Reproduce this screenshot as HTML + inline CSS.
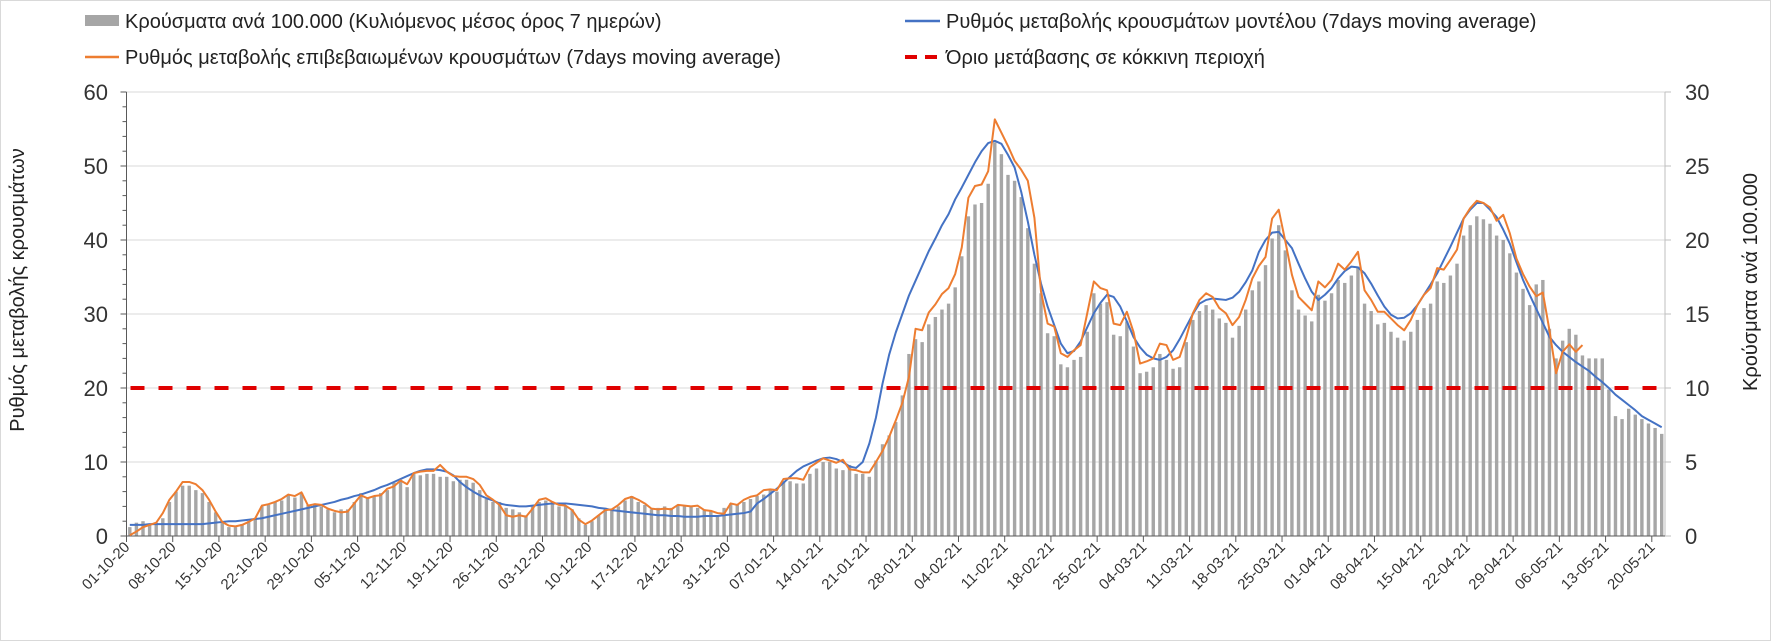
<!DOCTYPE html>
<html><head><meta charset="utf-8"><style>
html,body{margin:0;padding:0;background:#fff}
svg{display:block;font-family:"Liberation Sans","DejaVu Sans",sans-serif}
</style></head><body>
<svg id="chart" width="1771" height="641" viewBox="0 0 1771 641" xmlns="http://www.w3.org/2000/svg">
<rect x="0.5" y="0.5" width="1770" height="640" fill="#fff" stroke="#d9d9d9"/>
<g id="grid"></g>
<g id="bars"></g>
<g id="axes"></g>
<g id="lines"></g>
<g id="legend">
  <rect x="85" y="15" width="34" height="11" fill="#a6a6a6"/>
  <text x="125" y="28" font-size="20" fill="#222">Κρούσματα ανά 100.000 (Κυλιόμενος μέσος όρος 7 ημερών)</text>
  <line x1="905" y1="21" x2="940" y2="21" stroke="#4472c4" stroke-width="2.5"/>
  <text x="946" y="28" font-size="20" fill="#222">Ρυθμός μεταβολής κρουσμάτων μοντέλου (7days moving average)</text>
  <line x1="85" y1="57" x2="119" y2="57" stroke="#ed7d31" stroke-width="2.5"/>
  <text x="125" y="64" font-size="20" fill="#222">Ρυθμός μεταβολής επιβεβαιωμένων κρουσμάτων (7days moving average)</text>
  <line x1="905" y1="57" x2="940" y2="57" stroke="#e00000" stroke-width="4" stroke-dasharray="12,8"/>
  <text x="946" y="64" font-size="20" fill="#222">Όριο μετάβασης σε κόκκινη περιοχή</text>
</g>
<text transform="translate(24,290) rotate(-90)" text-anchor="middle" font-size="20" fill="#222">Ρυθμός μεταβολής κρουσμάτων</text>
<text transform="translate(1757,282) rotate(-90)" text-anchor="middle" font-size="20" fill="#222">Κρούσματα ανά 100.000</text>
</svg>
<script>
const bars = [0.6,0.9,1.0,0.8,0.9,1.2,2.3,3.0,3.4,3.4,
3.1,2.9,2.3,1.6,1.0,0.6,0.6,0.8,1.0,1.2,
2.0,2.1,2.3,2.4,2.8,2.6,2.9,2.1,2.2,2.0,
1.8,1.6,1.8,1.8,2.3,2.9,2.6,2.7,2.9,3.1,
3.6,3.8,3.3,4.2,4.1,4.2,4.2,4.0,4.0,3.7,
3.8,3.8,3.6,3.1,2.5,2.3,2.3,1.9,1.8,1.6,
1.4,2.0,2.3,2.4,2.3,2.0,2.0,1.8,1.2,0.75,
1.0,1.4,1.9,1.8,2.0,2.4,2.7,2.3,2.1,1.8,
1.9,2.0,1.9,2.1,2.0,2.0,1.9,1.8,1.7,1.4,
1.9,2.2,2.1,2.3,2.5,2.7,2.8,3.1,3.0,3.7,
3.7,3.55,3.55,4.2,4.56,5.0,5.0,4.56,4.45,4.8,
4.2,4.2,4.0,5.1,6.2,6.8,7.7,9.5,12.3,13.3,
13.1,14.3,14.8,15.3,15.7,16.8,18.9,21.6,22.4,22.5,
23.8,26.6,25.8,24.4,24.0,22.9,20.8,18.4,16.4,13.7,
13.5,11.6,11.4,11.9,12.1,13.8,16.4,15.7,15.8,13.6,
13.5,14.5,12.8,11.0,11.1,11.4,12.3,11.9,11.3,11.4,
13.1,14.6,15.2,15.6,15.3,14.7,14.4,13.4,14.2,15.3,
16.6,17.2,18.3,20.1,21.0,19.3,16.6,15.3,14.9,14.5,
16.3,15.9,16.4,17.3,17.1,17.6,18.2,15.7,15.2,14.3,
14.4,13.8,13.4,13.2,13.8,14.6,15.4,15.7,17.2,17.1,
17.6,18.4,20.3,21.0,21.6,21.4,21.1,20.3,20.0,19.1,
17.8,16.7,15.6,17.0,17.3,14.0,12.0,13.2,14.0,13.6,
12.2,12.0,12.0,12.0,9.9,8.1,7.9,8.6,8.2,7.9,
7.6,7.3,6.9];
const confirmedRate = [0.1,0.6,1.2,1.5,1.8,3.1,4.9,6.0,7.3,7.3,
7.0,6.2,4.9,3.3,1.9,1.4,1.3,1.5,1.9,2.4,
4.1,4.3,4.6,5.0,5.6,5.4,5.9,4.1,4.3,4.2,
3.7,3.4,3.2,3.3,4.4,5.5,5.1,5.4,5.5,6.4,
6.7,7.5,7.0,8.5,8.7,8.8,8.8,9.6,8.7,8.1,
8.0,8.0,7.7,6.9,5.5,4.9,4.2,2.8,2.6,2.8,
2.6,3.7,4.9,5.1,4.6,4.2,4.1,3.5,2.2,1.6,
2.1,2.8,3.5,3.6,4.2,5.0,5.3,4.9,4.4,3.7,
3.6,3.7,3.6,4.2,4.1,4.0,4.1,3.5,3.4,3.1,
3.0,4.4,4.2,4.9,5.3,5.5,6.2,6.3,6.2,7.7,
7.8,7.8,7.6,9.3,9.9,10.5,10.2,9.9,10.3,9.0,
8.9,8.6,8.6,10.0,11.5,13.4,15.6,18.0,21.5,28.0,
27.8,30.2,31.3,32.7,33.5,35.4,39.0,45.7,47.3,47.5,
49.3,56.3,54.5,52.7,50.7,49.5,48.0,43.0,33.0,28.7,
28.3,24.7,24.2,25.1,25.8,30.1,34.4,33.5,33.2,28.7,
28.5,30.3,27.6,23.3,23.6,24.0,26.0,25.8,23.8,24.2,
26.9,30.1,31.9,32.8,32.3,30.8,30.1,28.5,29.6,31.9,
34.8,36.5,37.7,42.9,44.1,39.8,35.3,32.3,31.4,30.5,
34.4,33.6,34.6,36.8,36.0,37.1,38.4,33.2,31.9,30.3,
30.3,29.4,28.5,27.8,29.2,31.2,32.6,33.5,36.2,36.0,
37.3,38.7,42.9,44.3,45.3,45.0,44.4,42.6,43.4,40.9,
37.5,35.4,33.7,32.4,32.9,27.8,22.0,24.9,25.9,24.9,25.8];
const modelRate = [1.5,1.5,1.5,1.6,1.6,1.6,1.6,1.6,1.6,1.6,
1.6,1.6,1.7,1.8,1.9,2.0,2.0,2.1,2.2,2.3,
2.4,2.6,2.8,3.0,3.2,3.4,3.6,3.8,4.0,4.2,
4.4,4.6,4.9,5.1,5.4,5.6,5.9,6.2,6.6,6.9,
7.3,7.7,8.1,8.5,8.8,9.0,9.0,8.9,8.7,8.2,
7.3,6.6,6.0,5.5,5.1,4.8,4.4,4.2,4.1,4.0,
4.0,4.1,4.2,4.3,4.4,4.4,4.4,4.3,4.2,4.1,
4.0,3.8,3.7,3.5,3.4,3.3,3.2,3.1,3.0,2.9,
2.8,2.8,2.7,2.7,2.6,2.6,2.6,2.7,2.7,2.7,
2.8,2.9,3.0,3.1,3.3,4.4,5.0,5.7,6.4,7.2,
8.0,8.8,9.4,9.8,10.2,10.5,10.6,10.4,10.0,9.4,
9.2,10.0,12.5,16.0,20.6,24.5,27.5,30.0,32.5,34.5,
36.5,38.5,40.2,42.0,43.5,45.5,47.1,48.8,50.5,52.0,
53.1,53.4,53.0,51.5,49.8,46.5,42.5,38.0,34.1,31.0,
28.5,26.0,24.7,25.0,26.3,28.2,30.1,31.5,32.6,32.3,
31.0,29.0,26.9,25.5,24.5,24.0,23.8,24.2,25.1,26.6,
28.3,30.0,31.4,31.9,32.1,32.0,31.9,32.2,33.0,34.3,
35.9,38.4,40.0,41.0,41.1,40.0,38.9,36.8,34.8,33.0,
31.9,32.6,33.5,34.8,35.8,36.4,36.3,35.5,34.1,32.5,
31.0,29.9,29.4,29.5,30.1,31.2,32.6,34.0,35.5,37.3,
39.1,41.0,42.9,44.1,45.0,45.0,44.1,43.1,41.4,39.5,
37.0,34.6,32.6,30.7,28.8,26.9,25.8,24.9,24.2,23.5,
22.9,22.3,21.5,20.8,20.0,19.1,18.4,17.7,17.0,16.2,
15.7,15.2,14.7];
const threshold = [20];
const dateLabels = ["01-10-20","08-10-20","15-10-20","22-10-20","29-10-20","05-11-20","12-11-20","19-11-20","26-11-20","03-12-20","10-12-20","17-12-20","24-12-20","31-12-20","07-01-21","14-01-21","21-01-21","28-01-21","04-02-21","11-02-21","18-02-21","25-02-21","04-03-21","11-03-21","18-03-21","25-03-21","01-04-21","08-04-21","15-04-21","22-04-21","29-04-21","06-05-21","13-05-21","20-05-21"];
const leftTicks = [0,10,20,30,40,50,60];
const rightTicks = [0,5,10,15,20,25,30];

const NS = "http://www.w3.org/2000/svg";
const X0 = 126.5, X1 = 1665, Y0 = 536, YTOP = 92;
const N = 233;
const band = (X1 - X0) / N;
const xC = d => X0 + band * (d + 0.5);
const xB = d => X0 + band * d;
const yL = v => Y0 - v * (Y0 - YTOP) / 60;
const yR = v => Y0 - v * (Y0 - YTOP) / 30;
function mk(tag, attrs, parent) {
  const e = document.createElementNS(NS, tag);
  for (const k in attrs) e.setAttribute(k, attrs[k]);
  parent.appendChild(e);
  return e;
}
const grid = document.getElementById('grid');
const axes = document.getElementById('axes');
const barsG = document.getElementById('bars');
const linesG = document.getElementById('lines');

leftTicks.forEach(v => {
  if (v > 0) {
    const g = mk('line', {x1: X0, x2: X1, y1: yL(v), y2: yL(v), stroke: '#d9d9d9', 'stroke-width': 1}, grid);
    
    
  }
  const tk = mk('line', {x1: X0 - 6, x2: X0, y1: yL(v), y2: yL(v), stroke: '#595959', 'stroke-width': 1}, axes);
  
  
  const t = mk('text', {x: 108, y: yL(v) + 8, 'text-anchor': 'end', 'font-size': 22, fill: '#333'}, axes);
  t.textContent = v;
  
  
});
for (let v = 2; v < 60; v += 2) {
  if (v % 10 === 0) continue;
  const m = mk('line', {x1: X0 - 4, x2: X0, y1: yL(v), y2: yL(v), stroke: '#595959', 'stroke-width': 1}, axes);
  
  
}
rightTicks.forEach(v => {
  const tk = mk('line', {x1: X1, x2: X1 + 6, y1: yR(v), y2: yR(v), stroke: '#bfbfbf', 'stroke-width': 1}, axes);
  
  
  const t = mk('text', {x: 1685, y: yR(v) + 8, 'font-size': 22, fill: '#333'}, axes);
  t.textContent = v;
  
  
});
const la = mk('line', {x1: X0, x2: X0, y1: YTOP, y2: Y0, stroke: '#595959', 'stroke-width': 1}, axes);


const ra = mk('line', {x1: X1, x2: X1, y1: YTOP, y2: Y0, stroke: '#bfbfbf', 'stroke-width': 1}, axes);


const xa = mk('line', {x1: X0, x2: X1, y1: Y0, y2: Y0, stroke: '#595959', 'stroke-width': 1}, axes);



dateLabels.forEach((lab, k) => {
  const x = xB(7 * k);
  const tk = mk('line', {x1: x, x2: x, y1: Y0, y2: Y0 + 6, stroke: '#595959', 'stroke-width': 1}, axes);
  
  
  const t = mk('text', {transform: `translate(${x + 4},${Y0 + 12}) rotate(-45)`, 'text-anchor': 'end', 'font-size': 15, fill: '#333'}, axes);
  t.textContent = lab;
  
  
});

bars.forEach((v, d) => {
  const r = mk('rect', {x: xC(d) - 1.7, y: yR(v), width: 3.4, height: Y0 - yR(v), fill: '#a6a6a6'}, barsG);
  
  
});

const th = mk('line', {x1: X0 + 4, x2: X1 - 8, y1: yL(threshold[0]), y2: yL(threshold[0]), stroke: '#e00000', 'stroke-width': 4, 'stroke-dasharray': '14,14'}, linesG);



function path(arr) { return arr.map((v, d) => (d ? 'L' : 'M') + xC(d).toFixed(2) + ',' + yL(v).toFixed(2)).join(''); }
const ml = mk('path', {d: path(modelRate), fill: 'none', stroke: '#4472c4', 'stroke-width': 2, 'stroke-linejoin': 'round'}, linesG);


const cl = mk('path', {d: path(confirmedRate), fill: 'none', stroke: '#ed7d31', 'stroke-width': 2, 'stroke-linejoin': 'round'}, linesG);


</script>
</body></html>
